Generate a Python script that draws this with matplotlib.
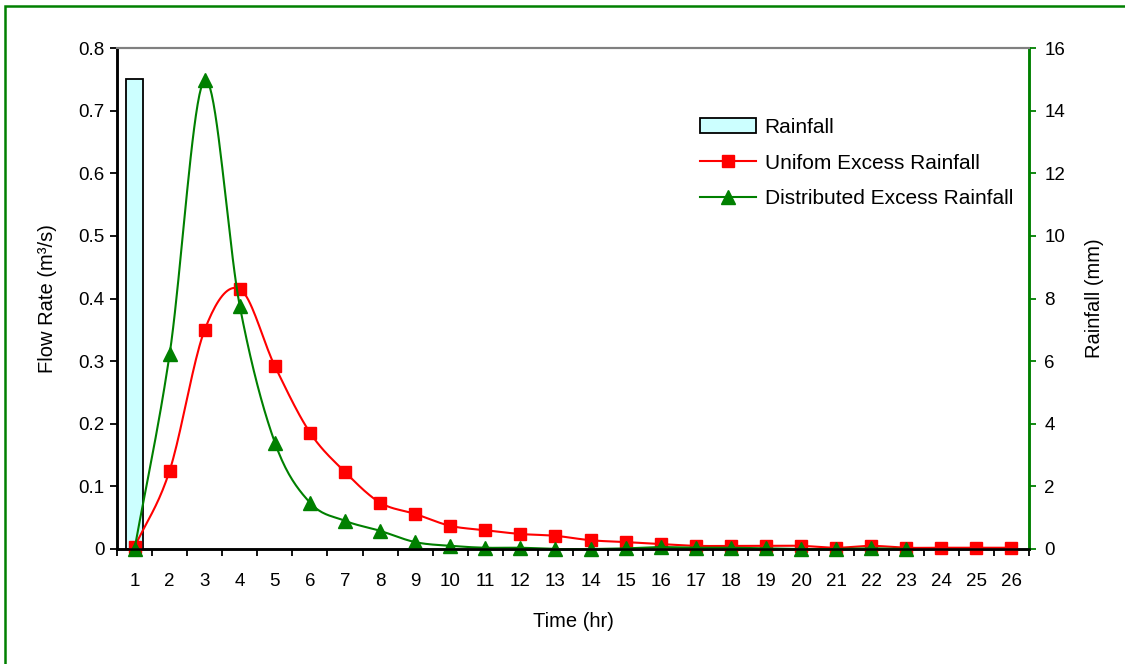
import numpy as np
import matplotlib
matplotlib.use("Agg")
import matplotlib.pyplot as plt
from matplotlib.patches import Rectangle, Patch
from matplotlib.lines import Line2D

plt.rcParams['font.family'] = ['Liberation Sans', 'DejaVu Sans']

# ---- data ----
time_hr = list(range(1, 27))
rain_time = [1]
rain_mm = [15]
uniform_flow = [0.003, 0.125, 0.350, 0.415, 0.292, 0.186, 0.123, 0.074, 0.056, 0.037,
                0.030, 0.024, 0.021, 0.014, 0.011, 0.008, 0.005, 0.005, 0.005, 0.005,
                0.002, 0.005, 0.002, 0.002, 0.002, 0.002]
dist_time = list(range(1, 24))
dist_flow = [0.000, 0.311, 0.749, 0.388, 0.170, 0.074, 0.045, 0.029, 0.011, 0.005,
             0.002, 0.002, 0.000, 0.000, 0.001, 0.003, 0.002, 0.002, 0.001, 0.000,
             0.000, 0.001, 0.000]

GREEN = '#008000'
RED = '#FF0000'
FS = 14


def smooth(x, y, n=20):
    """Catmull-Rom curve through the points, as used for smoothed lines."""
    x = np.asarray(x, float)
    y = np.asarray(y, float)
    px = np.concatenate([[2 * x[0] - x[1]], x, [2 * x[-1] - x[-2]]])
    py = np.concatenate([[2 * y[0] - y[1]], y, [2 * y[-1] - y[-2]]])
    xs, ys = [], []
    t = np.linspace(0, 1, n, endpoint=False)
    for i in range(1, len(px) - 2):
        p0, p1, p2, p3 = (np.array([px[j], py[j]]) for j in range(i - 1, i + 3))
        tt = t[:, None]
        pts = 0.5 * ((2 * p1) + (-p0 + p2) * tt + (2 * p0 - 5 * p1 + 4 * p2 - p3) * tt ** 2
                     + (-p0 + 3 * p1 - 3 * p2 + p3) * tt ** 3)
        xs.extend(pts[:, 0])
        ys.extend(pts[:, 1])
    xs.append(x[-1])
    ys.append(y[-1])
    return np.array(xs), np.array(ys)


fig = plt.figure(figsize=(11.25, 6.64), dpi=100)
fig.patches.append(Rectangle((0.0045, -0.05), 1.2, 1.0 - 0.0045 - 0.0046 + 0.05 + 0.0005,
                             transform=fig.transFigure, fill=False,
                             edgecolor=GREEN, linewidth=1.8))

ax = fig.add_axes([0.104, 0.1732, 0.8107, 0.7545])
ax2 = ax.twinx()

# rainfall bar on the secondary axis
ax2.bar(rain_time, rain_mm, width=0.48, color='#CCFFFF', edgecolor='black', linewidth=1.3)
ax2.set_ylim(0, 16)
ax2.set_yticks(np.arange(0, 17, 2))

# flow hydrographs on the primary axis, drawn above the bar
ax.set_zorder(ax2.get_zorder() + 1)
ax.patch.set_visible(False)

sx, sy = smooth(time_hr, uniform_flow)
ax.plot(sx, sy, color=RED, linewidth=1.5, clip_on=False)
ax.plot(time_hr, uniform_flow, linestyle='none', marker='s', markersize=8.5,
        color=RED, clip_on=False)

sx, sy = smooth(dist_time, dist_flow)
ax.plot(sx, sy, color=GREEN, linewidth=1.5, clip_on=False)
ax.plot(dist_time, dist_flow, linestyle='none', marker='^', markersize=10,
        color=GREEN, clip_on=False)

ax.set_xlim(0.5, 26.5)
ax.set_ylim(0, 0.8)
ax.set_yticks(np.arange(0, 0.81, 0.1))
ax.set_yticklabels(['0'] + [f'{v:.1f}' for v in np.arange(0.1, 0.81, 0.1)])
ax.set_xticks(time_hr)
ax.set_xticks(np.arange(0.5, 27, 1), minor=True)

ax.tick_params(axis='x', which='major', length=0, pad=17, labelsize=FS - 0.5)
ax.tick_params(axis='x', which='minor', length=5, width=1.3, direction='out', color='black')
ax.tick_params(axis='y', length=5, width=1.3, direction='out', labelsize=FS - 0.5, pad=4)
ax2.tick_params(axis='y', length=5, width=1.3, direction='out', colors=GREEN,
                labelcolor='black', labelsize=FS - 0.5, pad=6)

for a in (ax, ax2):
    a.spines['top'].set_color('#808080')
    a.spines['top'].set_linewidth(1.5)
    a.spines['left'].set_color('black')
    a.spines['left'].set_linewidth(1.8)
    a.spines['bottom'].set_color('black')
    a.spines['bottom'].set_linewidth(1.8)
    a.spines['right'].set_color(GREEN)
    a.spines['right'].set_linewidth(1.8)

ax.set_xlabel('Time (hr)', fontsize=FS + 0.5, labelpad=16)
ax.set_ylabel('Flow Rate (m³/s)', fontsize=FS + 0.5, labelpad=15)
ax2.set_ylabel('Rainfall (mm)', fontsize=FS + 0.5, labelpad=14)

handles = [
    Patch(facecolor='#CCFFFF', edgecolor='black', linewidth=1.3),
    Line2D([], [], color=RED, linewidth=1.5, marker='s', markersize=8.5),
    Line2D([], [], color=GREEN, linewidth=1.5, marker='^', markersize=10),
]
labels = ['Rainfall', 'Unifom Excess Rainfall', 'Distributed Excess Rainfall']
ax.legend(handles, labels, loc='upper left', bbox_to_anchor=(0.63, 0.877),
          frameon=False, fontsize=FS + 1, handlelength=2.7, handletextpad=0.4,
          labelspacing=0.8, borderaxespad=0)

fig.savefig('out.png', dpi=100)
